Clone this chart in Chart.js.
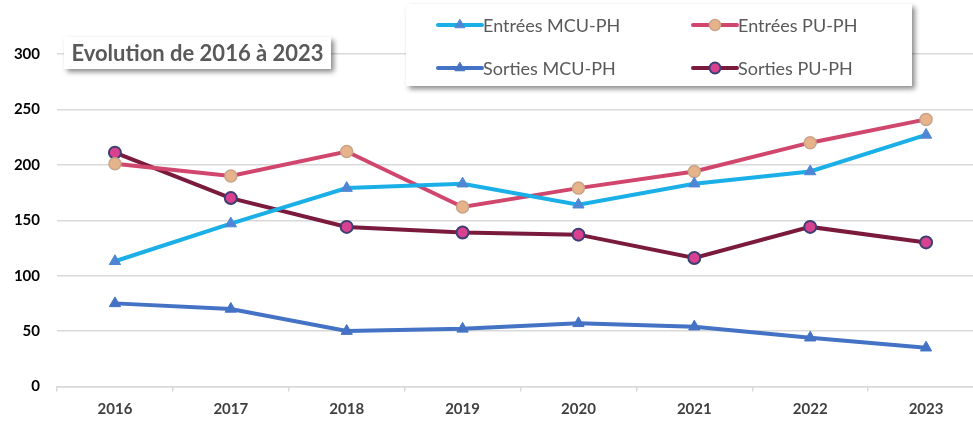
<!DOCTYPE html>
<html>
<head>
<meta charset="utf-8">
<script src="https://cdn.jsdelivr.net/npm/chart.js@4/dist/chart.umd.min.js"></script>
<style>
  html, body { margin: 0; padding: 0; background: #fff; overflow: hidden; }
  #wrap { position: relative; width: 992px; height: 421px; }
  #title {
    position: absolute; left: 64px; top: 37px; width: 267px; height: 32px;
    background: #fff; box-shadow: 3px 3px 5px rgba(0,0,0,0.45);
    font-family: Lato, sans-serif; font-weight: bold; font-size: 22px; color: #595959;
    line-height: 32px; text-align: center; z-index: 2;
  }
</style>
</head>
<body>
<div id="wrap">
  <canvas id="c" width="992" height="421"></canvas>
  <div id="title">Evolution de 2016 à 2023</div>
</div>
<script>
const categories = ["2016", "2017", "2018", "2019", "2020", "2021", "2022", "2023"];
const entreesMCU = [113, 147, 179, 183, 164, 183, 194, 227];
const entreesPU  = [201, 190, 212, 162, 179, 194, 220, 241];
const sortiesMCU = [75, 70, 50, 52, 57, 54, 44, 35];
const sortiesPU  = [211, 170, 144, 139, 137, 116, 144, 130];
const seriesNames = ["Entrées MCU-PH", "Entrées PU-PH", "Sorties MCU-PH", "Sorties PU-PH"];

const datasets = [
  { label: seriesNames[0], data: entreesMCU, borderColor: '#1AAFE6', pointStyle: 'triangle',
    pointBackgroundColor: '#4E86D4', pointBorderColor: '#4E86D4', pointRadius: 6.5, pointBorderWidth: 1 },
  { label: seriesNames[1], data: entreesPU, borderColor: '#D0466D', pointStyle: 'circle',
    pointBackgroundColor: '#E7B38B', pointBorderColor: '#C8A488', pointRadius: 6, pointBorderWidth: 1.5 },
  { label: seriesNames[2], data: sortiesMCU, borderColor: '#4472C4', pointStyle: 'triangle',
    pointBackgroundColor: '#4472C4', pointBorderColor: '#4472C4', pointRadius: 6.5, pointBorderWidth: 1 },
  { label: seriesNames[3], data: sortiesPU, borderColor: '#7A1A3C', pointStyle: 'circle',
    pointBackgroundColor: '#D8418F', pointBorderColor: '#3D3F72', pointRadius: 6, pointBorderWidth: 2 }
].map(d => Object.assign({ borderWidth: 4, tension: 0, fill: false }, d));

// order of legend entries: [column, row]
const legendPos = [[0,0],[1,0],[0,1],[1,1]];

const legendPlugin = {
  id: 'boxLegend',
  afterDraw(chart) {
    const ctx = chart.ctx;
    ctx.save();
    ctx.shadowColor = 'rgba(0,0,0,0.45)';
    ctx.shadowBlur = 5; ctx.shadowOffsetX = 3; ctx.shadowOffsetY = 3;
    ctx.fillStyle = '#fff';
    ctx.fillRect(406, 4, 506, 82);
    ctx.restore();
    const colX = [438, 693];
    const rowY = [25, 68];
    chart.data.datasets.forEach((ds, i) => {
      const [c, r] = legendPos[i];
      const x0 = colX[c], y = rowY[r];
      ctx.save();
      ctx.strokeStyle = ds.borderColor; ctx.lineWidth = 4; ctx.lineCap = 'round';
      ctx.beginPath(); ctx.moveTo(x0, y); ctx.lineTo(x0 + 44, y); ctx.stroke();
      ctx.fillStyle = ds.pointBackgroundColor; ctx.strokeStyle = ds.pointBorderColor;
      ctx.lineWidth = ds.pointBorderWidth;
      Chart.helpers.drawPoint(ctx, { pointStyle: ds.pointStyle, radius: 5.5, rotation: 0, borderWidth: ds.pointBorderWidth }, x0 + 22, y);
      ctx.fillStyle = '#595959';
      ctx.font = '18px Lato, sans-serif';
      ctx.textBaseline = 'middle'; ctx.textAlign = 'left';
      ctx.fillText(ds.label, x0 + 45, y + 1);
      ctx.restore();
    });
  }
};

new Chart(document.getElementById('c'), {
  type: 'line',
  data: { labels: categories, datasets },
  options: {
    responsive: false, animation: false,
    layout: { padding: { top: 54, right: 3, left: 0, bottom: 0 } },
    plugins: { legend: { display: false }, tooltip: { enabled: false } },
    scales: {
      x: {
        offset: true,
        grid: { display: true, drawOnChartArea: false, drawTicks: true, tickLength: 5, color: '#D9D9D9', lineWidth: 1.5, offset: true },
        border: { display: true, color: '#D9D9D9', width: 1.5 },
        ticks: { color: '#404040', font: { family: 'Lato', size: 15, weight: 'bold' }, padding: 9 },
        afterFit(s) { s.height = 34.5; }
      },
      y: {
        min: 0, max: 300,
        ticks: { stepSize: 50, color: '#000', font: { family: 'Lato', size: 15, weight: 'bold' }, padding: 17 },
        grid: { color: '#D9D9D9', lineWidth: 1.5, drawTicks: false },
        border: { display: false },
        afterFit(s) { s.width = 57; }
      }
    }
  },
  plugins: [legendPlugin]
});
</script>
</body>
</html>
